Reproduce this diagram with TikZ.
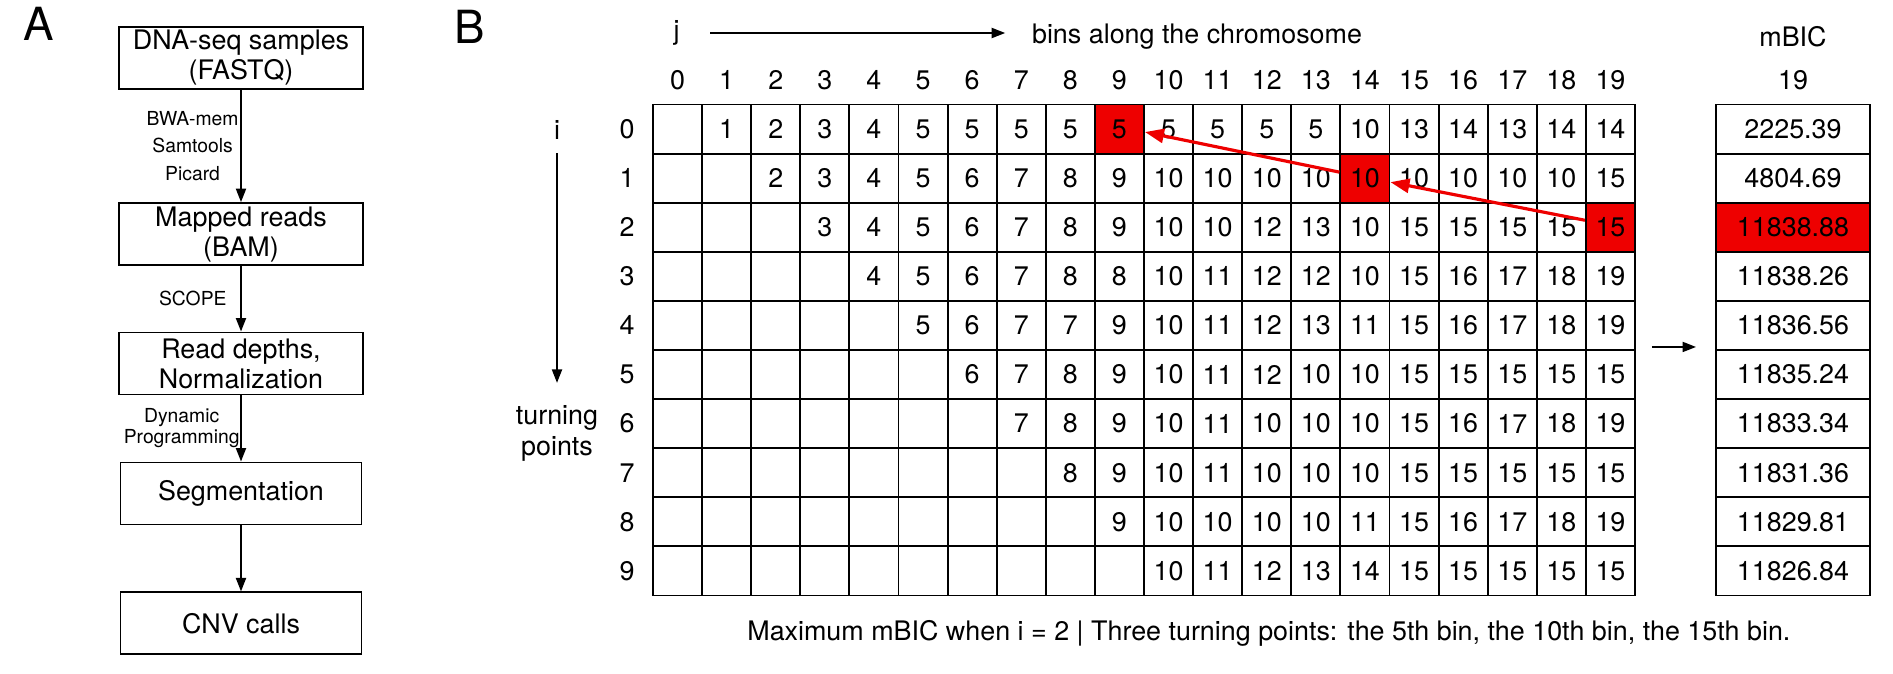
\documentclass[tikz,border=0pt]{standalone}
\usepackage{fontspec}
\setmainfont{TeX Gyre Heros}
\usepackage{tikz}
\usetikzlibrary{positioning,arrows.meta,backgrounds}
\definecolor{hotred}{HTML}{EE0000}
\tikzset{
  flow/.style={draw,line width=1.1pt,minimum width=4.88cm,minimum height=1.24cm,align=center,inner sep=2pt,font=\fontsize{15.3}{17}\selectfont},
  steplbl/.style={align=center,inner sep=0pt,font=\fontsize{11}{15.6}\selectfont},
  cell/.style={draw,line width=1.1pt,minimum size=0.982cm,inner sep=0pt,font=\fontsize{15.3}{18}\selectfont},
  mcell/.style={cell,minimum width=3.08cm},
  lbl/.style={inner sep=0pt,align=center,font=\fontsize{15.3}{18}\selectfont},
  panel/.style={inner sep=0pt,font=\fontsize{26}{30}\selectfont},
  arr/.style={-{Triangle[length=0.27cm,width=0.2cm]},line width=1.1pt},
  redarr/.style={-{Triangle[length=0.38cm,width=0.28cm]},line width=1.8pt,hotred},
}

\begin{document}
\begin{tikzpicture}[x=0.02cm,y=-0.02cm]
\useasboundingbox (0,0) rectangle (1893,673);

% panel A: pipeline
\node[panel] (lblA) at (39,23.5) {A};
\node[flow] (fastq) at (241,57.7) {DNA-seq samples\\(FASTQ)};
\node[flow] (bam) at (241,234.2) {Mapped reads\\(BAM)};
\node[flow] (depth) at (241,363.5) {Read depths,\\Normalization};
\node[flow,minimum width=4.82cm] (seg) at (241,493.5) {Segmentation};
\node[flow,minimum width=4.82cm] (cnv) at (241,623.4) {CNV calls};
\draw[arr] (fastq) -- node[steplbl,left=0.03cm] {BWA-mem\\Samtools\\Picard} (bam);
\draw[arr] (bam) -- node[steplbl,left=0.27cm] {SCOPE} (depth);
\draw[arr] (depth) -- node[steplbl,left=0.01cm,font=\fontsize{11}{12}\selectfont] {Dynamic\\Programming} (seg);
\draw[arr] (seg) -- (cnv);

% panel B: header
\node[panel] (lblB) at (470,27) {B};
\node[lbl] (jlbl) at (676.7,33) {j};
\node[lbl,anchor=base west] (bins) at (1031.7,43.3) {bins along the chromosome};
\draw[arr,shorten <=0.6cm,shorten >=0.53cm] (jlbl.east) -- (jlbl.east -| bins.west);
\foreach \j in {0,...,19}
  \node[lbl] (h-\j) at ({677.55+49.1*\j},80) {\j};
\node[lbl] (mbic) at (1793,36.7) {mBIC};
\node[lbl] (mh) at (1793,80) {19};

% row labels
\node[lbl] (ilbl) at (557,130) {i};
\node[lbl] (tp) at (557,433.5) {turning\\points};
\draw[arr,shorten <=0.27cm,shorten >=0.44cm] (ilbl) -- (tp);
\foreach \i in {0,...,9}
  \node[lbl] (r-\i) at (627,{129.05+49.1*\i}) {\i};

% table of turning points
\foreach \vals [count=\n] in {
  {1,2,3,4,5,5,5,5,5,5,5,5,5,10,13,14,13,14,14},
  {2,3,4,5,6,7,8,9,10,10,10,10,10,10,10,10,10,15},
  {3,4,5,6,7,8,9,10,10,12,13,10,15,15,15,15,15},
  {4,5,6,7,8,8,10,11,12,12,10,15,16,17,18,19},
  {5,6,7,7,9,10,11,12,13,11,15,16,17,18,19},
  {6,7,8,9,10,11,12,10,10,15,15,15,15,15},
  {7,8,9,10,11,10,10,10,15,16,17,18,19},
  {8,9,10,11,10,10,10,15,15,15,15,15},
  {9,10,10,10,10,11,15,16,17,18,19},
  {10,11,12,13,14,15,15,15,15,15}}{
  \pgfmathtruncatemacro\i{\n-1}
  \foreach \j in {0,...,\i}
    \node[cell] (c-\i-\j) at ({677.55+49.1*\j},{129.05+49.1*\i}) {};
  \foreach \v [count=\k] in \vals {
    \pgfmathtruncatemacro\j{\i+\k}
    \node[cell] (c-\i-\j) at ({677.55+49.1*\j},{129.05+49.1*\i}) {\v};
  }
}

% mBIC column
\foreach \v [count=\i from 0] in {2225.39,4804.69,11838.88,11838.26,11836.56,11835.24,11833.34,11831.36,11829.81,11826.84}
  \node[mcell] (m-\i) at (1793,{129.05+49.1*\i}) {\v};

% highlighted cells
\begin{scope}[on background layer]
\foreach \c in {c-0-9,c-1-14,c-2-19,m-2}
  \fill[hotred] (\c.south west) rectangle (\c.north east);
\end{scope}

% backtracking
\draw[redarr] ([yshift=0.14cm]c-2-19.west) -- ([yshift=-0.08cm]c-1-14.east);
\draw[redarr] ([yshift=0.12cm]c-1-14.west) -- ([yshift=-0.06cm]c-0-9.east);
\draw[arr,shorten <=0.32cm,shorten >=0.38cm] ([yshift=0.08cm]c-4-19.south east) -- ([yshift=0.08cm]m-4.south west);

\node[lbl,anchor=base west] (caption) at (747,640) {Maximum mBIC when i = 2 | Three turning points: the 5th bin, the 10th bin, the 15th bin.};
\end{tikzpicture}
\end{document}
